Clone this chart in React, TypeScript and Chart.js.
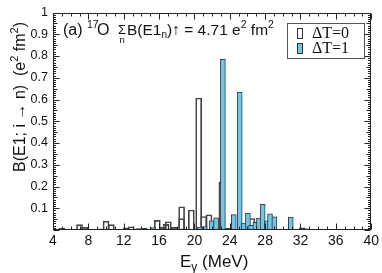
import { useEffect, useRef } from 'react';
import { Chart, registerables } from 'chart.js';

Chart.register(...registerables);

// ΔT=0 strength (open bars): excitation energy (MeV) and B(E1) (e^2 fm^2)
const T0_E = [5.0, 5.5, 7.0, 7.6, 9.4, 10.0, 10.6, 11.2, 12.3, 12.85, 13.7, 14.3, 14.8, 15.8, 16.4, 16.8, 17.05, 17.7, 18.55, 18.55, 19.65, 20.48, 21.05, 21.65, 23.1, 23.75, 26.5, 32.2, 33.5, 35.0, 36.6];
const T0_B = [0.008, 0.004, 0.025, 0.012, 0.005, 0.041, 0.025, 0.003, 0.010, 0.015, 0.006, 0.008, 0.004, 0.044, 0.012, 0.026, 0.038, 0.012, 0.052, 0.107, 0.092, 0.607, 0.062, 0.070, 0.220, 0.008, 0.053, 0.010, 0.003, 0.003, 0.003];

// ΔT=1 strength (blue bars)
const T1_E = [15.35, 16.3, 17.8, 18.8, 20.6, 21.15, 21.95, 22.45, 23.22, 24.45, 25.12, 25.6, 26.05, 26.42, 26.9, 27.3, 27.72, 28.2, 28.55, 29.05, 29.6, 30.9, 32.7, 34.0];
const T1_B = [0.011, 0.004, 0.005, 0.005, 0.014, 0.016, 0.042, 0.056, 0.785, 0.071, 0.634, 0.032, 0.078, 0.021, 0.035, 0.055, 0.118, 0.042, 0.074, 0.060, 0.004, 0.059, 0.005, 0.002];

const X_TICKS = [4, 8, 12, 16, 20, 24, 28, 32, 36, 40];
const X_LABELS = ['4', '8', '12', '16', '20', '24', '28', '32', '36', '40'];
const Y_TICKS = [0.1, 0.2, 0.3, 0.4, 0.5, 0.6, 0.7, 0.8, 0.9, 1.0];
const Y_LABELS = ['0.1', '0.2', '0.3', '0.4', '0.5', '0.6', '0.7', '0.8', '0.9', '1'];

const BLUE = '#74c6e6';
const INK = '#111';
const SANS = '"Liberation Sans", Arial, sans-serif';
const SERIF = '"Liberation Serif", "Times New Roman", serif';

type Run = [string, number, number];

function runsWidth(ctx: CanvasRenderingContext2D, runs: Run[]) {
  let w = 0;
  for (const [t, s] of runs) {
    ctx.font = `${s}px ${SANS}`;
    w += ctx.measureText(t).width;
  }
  return w;
}

function drawRuns(ctx: CanvasRenderingContext2D, x: number, y: number, runs: Run[]) {
  let cx = x;
  for (const [t, s, dy] of runs) {
    ctx.font = `${s}px ${SANS}`;
    ctx.fillText(t, cx, y + dy);
    cx += ctx.measureText(t).width;
  }
  return cx;
}

export default function App() {
  const ref = useRef<HTMLCanvasElement>(null);

  useEffect(() => {
    document.body.style.margin = '0';
    const canvas = ref.current;
    if (!canvas) return;

    const frame = {
      id: 'frame',
      afterDraw(chart: any) {
        const ctx: CanvasRenderingContext2D = chart.ctx;
        const { left, right, top, bottom } = chart.chartArea;
        const xs = chart.scales.x;
        const ys = chart.scales.y;
        ctx.save();
        ctx.strokeStyle = '#222';
        ctx.lineWidth = 1;
        const L = Math.round(left) + 0.5;
        const R = Math.round(right) - 0.5;
        const T = Math.round(top) + 0.5;
        const B = Math.round(bottom) - 0.5;
        ctx.strokeRect(L, T, R - L, B - T);
        ctx.beginPath();
        for (let e = 4; e <= 40; e++) {
          const px = Math.round(xs.getPixelForValue(e)) + 0.5;
          const len = e % 4 === 0 ? 6 : 3;
          ctx.moveTo(px, B); ctx.lineTo(px, B - len);
          ctx.moveTo(px, T); ctx.lineTo(px, T + len);
        }
        for (let k = 0; k <= 100; k++) {
          const py = Math.round(ys.getPixelForValue(k / 100)) + 0.5;
          const len = k % 10 === 0 ? 6 : k % 5 === 0 ? 4 : 2.5;
          ctx.moveTo(L, py); ctx.lineTo(L + len, py);
          ctx.moveTo(R, py); ctx.lineTo(R - len, py);
        }
        ctx.stroke();

        // annotation
        ctx.fillStyle = INK;
        ctx.textBaseline = 'alphabetic';
        ctx.textAlign = 'left';
        drawRuns(ctx, 63, 35, [['(a)', 16, 0]]);
        drawRuns(ctx, 87, 35, [['17', 10.5, -7]]);
        drawRuns(ctx, 97, 35, [['O', 16, 0]]);
        drawRuns(ctx, 118, 34, [['Σ', 13, 0]]);
        drawRuns(ctx, 119.5, 43, [['n', 9.5, 0]]);
        drawRuns(ctx, 127, 35, [
          ['B(E1', 15.5, 0], ['n', 10, 3], [')↑ = 4.71 e', 15.5, 0], ['2', 10.5, -7], [' fm', 15.5, 0], ['2', 10.5, -7],
        ]);

        // legend
        ctx.strokeStyle = '#555';
        ctx.strokeRect(287.5, 23.5, 77, 35);
        ctx.strokeStyle = '#333';
        ctx.fillStyle = '#fff';
        ctx.fillRect(297.5, 28.5, 5, 10);
        ctx.strokeRect(297.5, 28.5, 5, 10);
        ctx.fillStyle = BLUE;
        ctx.fillRect(297.5, 43.5, 5, 10);
        ctx.strokeRect(297.5, 43.5, 5, 10);
        ctx.fillStyle = INK;
        ctx.font = `16px ${SERIF}`;
        ctx.fillText('ΔT=0', 312, 37.5);
        ctx.fillText('ΔT=1', 312, 52.5);

        // x title
        drawRuns(ctx, 180, 267, [['E', 17, 0], ['γ', 12, 4], [' (MeV)', 17, 0]]);

        // y title
        const yRuns: Run[] = [
          ['B(E1; i → n)  (e', 16, 0], ['2', 11, -7], [' fm', 16, 0], ['2', 11, -7], [')', 16, 0],
        ];
        ctx.save();
        ctx.translate(25, 97);
        ctx.rotate(-Math.PI / 2);
        const w = runsWidth(ctx, yRuns);
        drawRuns(ctx, -w / 2, 0, yRuns);
        ctx.restore();

        ctx.restore();
      },
    };

    const chart = new Chart(canvas, {
      type: 'bar',
      data: {
        datasets: [
          {
            label: 'ΔT=1',
            data: T1_E.map((x, i) => ({ x, y: T1_B[i] })),
            backgroundColor: BLUE,
            borderColor: '#2c3e46',
            borderWidth: 1,
            barThickness: 5,
            grouped: false,
            order: 1,
          } as any,
          {
            label: 'ΔT=0',
            data: T0_E.map((x, i) => ({ x, y: T0_B[i] })),
            backgroundColor: 'rgba(255,255,255,0)',
            borderColor: '#444',
            borderWidth: 1,
            barThickness: 6,
            grouped: false,
            order: 2,
          } as any,
        ],
      },
      options: {
        animation: false,
        responsive: false,
        layout: { padding: { top: 5, right: 7, left: 0, bottom: 0 } },
        plugins: { legend: { display: false }, tooltip: { enabled: false } },
        scales: {
          x: {
            type: 'linear',
            min: 4,
            max: 40,
            offset: false,
            grid: { display: false, drawTicks: false, offset: false },
            border: { display: false },
            afterBuildTicks: (axis: any) => { axis.ticks = X_TICKS.map((value) => ({ value })); },
            ticks: {
              autoSkip: false,
              maxRotation: 0,
              padding: 3,
              color: INK,
              font: { family: SANS, size: 14 },
              callback: (_v: any, i: number) => X_LABELS[i],
            },
            afterFit: (s: any) => { s.height = 43; },
          },
          y: {
            type: 'linear',
            min: 0,
            max: 1,
            grid: { display: false, drawTicks: false },
            border: { display: false },
            afterBuildTicks: (axis: any) => { axis.ticks = Y_TICKS.map((value) => ({ value })); },
            ticks: {
              autoSkip: false,
              padding: 5,
              color: INK,
              font: { family: SANS, size: 12.5 },
              callback: (_v: any, i: number) => Y_LABELS[i],
            },
            afterFit: (s: any) => { s.width = 53; },
          },
        },
      } as any,
      plugins: [frame],
    });

    return () => chart.destroy();
  }, []);

  return (
    <div style={{ position: 'fixed', left: 0, top: 0, width: 382, height: 273, background: '#fff' }}>
      <canvas ref={ref} width={382} height={273} />
    </div>
  );
}
